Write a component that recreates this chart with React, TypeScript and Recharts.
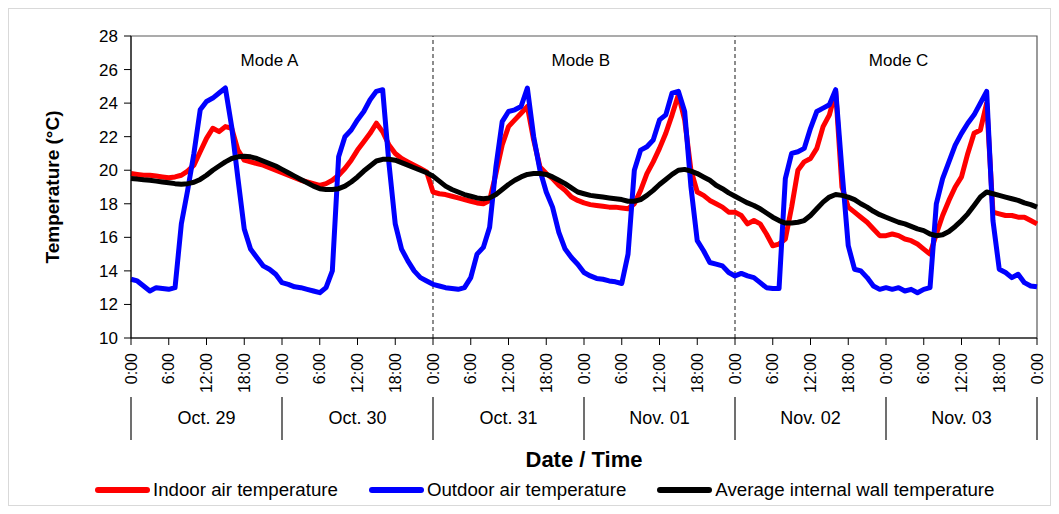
import { LineChart, Line, XAxis, YAxis, ReferenceLine, ReferenceArea, ReferenceDot } from 'recharts';

const dayLabels = ['Oct. 29', 'Oct. 30', 'Oct. 31', 'Nov. 01', 'Nov. 02', 'Nov. 03'];
const timeLabels = ['0:00', '6:00', '12:00', '18:00'];
const timeTicks = [0, 6, 12, 18, 24, 30, 36, 42, 48, 54, 60, 66, 72, 78, 84, 90, 96, 102, 108, 114, 120, 126, 132, 138, 144];
const dayTicks = [0, 12, 24, 36, 48, 60, 72, 84, 96, 108, 120, 132, 144];
const tempTicks = [10, 12, 14, 16, 18, 20, 22, 24, 26, 28];

const modeLabels = ['Mode A', 'Mode B', 'Mode C'];
const modeLabelHours = [22, 71.5, 122];
const modeBoundaries = [48, 96];

// hourly readings, 0:00 Oct. 29 -> 0:00 Nov. 04
const indoorTemp = [
  19.8, 19.75, 19.7, 19.7, 19.65, 19.6, 19.55, 19.6, 19.7, 19.95, 20.3, 21.1,
  21.9, 22.5, 22.3, 22.6, 22.5, 21.2, 20.6, 20.5, 20.4, 20.3, 20.15, 20.0,
  19.85, 19.7, 19.55, 19.4, 19.3, 19.2, 19.1, 19.2, 19.4, 19.7, 20.1, 20.6,
  21.2, 21.7, 22.2, 22.8, 22.3, 21.5, 21.0, 20.7, 20.5, 20.3, 20.1, 19.9,
  18.7, 18.6, 18.55, 18.45, 18.35, 18.25, 18.15, 18.05, 18.0, 18.2, 19.8, 21.5,
  22.6, 23.0, 23.4, 23.8, 21.8, 20.2, 19.8, 19.5, 19.1, 18.8, 18.4, 18.2,
  18.05, 17.95, 17.9, 17.85, 17.8, 17.8, 17.75, 17.7, 18.0, 18.8, 19.8, 20.5,
  21.3, 22.2, 23.3, 24.5, 23.0, 20.0, 18.7, 18.5, 18.2, 18.0, 17.8, 17.5,
  17.5, 17.3, 16.8, 17.0, 16.8, 16.2, 15.5, 15.6, 15.9, 17.8, 20.0, 20.5,
  20.7, 21.3, 22.6, 23.3, 24.7, 19.0, 17.8, 17.5, 17.2, 16.9, 16.5, 16.1,
  16.1, 16.2, 16.1, 15.9, 15.8, 15.6, 15.3, 15.0, 16.2, 17.3, 18.2, 19.0,
  19.6, 21.0, 22.2, 22.4, 24.0, 17.5, 17.4, 17.3, 17.3, 17.2, 17.2, 17.0,
  16.8,
];

const outdoorTemp = [
  13.5, 13.4, 13.1, 12.8, 13.0, 12.95, 12.9, 13.0, 16.8, 18.8, 21.0, 23.6,
  24.1, 24.3, 24.6, 24.9, 22.6, 19.5, 16.5, 15.3, 14.8, 14.3, 14.1, 13.8,
  13.3, 13.2, 13.05, 13.0, 12.9, 12.8, 12.7, 13.0, 14.0, 20.8, 22.0, 22.4,
  23.0, 23.5, 24.2, 24.7, 24.8, 20.4, 16.8, 15.3, 14.6, 14.0, 13.6, 13.4,
  13.2, 13.1, 13.0, 12.95, 12.9, 13.0, 13.6, 15.0, 15.4, 16.6, 20.2, 22.9,
  23.5, 23.6, 23.8, 24.9, 22.0, 20.0, 18.7, 17.8, 16.3, 15.3, 14.8, 14.4,
  13.9, 13.7, 13.55, 13.5, 13.4, 13.35, 13.25, 15.0, 20.0, 21.2, 21.4, 21.8,
  23.0, 23.3, 24.6, 24.7, 23.5, 19.0, 15.8, 15.2, 14.5, 14.4, 14.3, 13.9,
  13.7, 13.85, 13.7, 13.6, 13.3, 13.0, 12.95, 12.95, 19.5, 21.0, 21.1, 21.3,
  22.5, 23.5, 23.7, 23.9, 24.8, 20.0, 15.5, 14.1, 14.0, 13.6, 13.1, 12.9,
  13.0, 12.9, 13.0, 12.8, 12.9, 12.7, 12.9, 13.0, 18.0, 19.5, 20.5, 21.5,
  22.2, 22.8, 23.3, 24.0, 24.7, 17.0, 14.1, 13.9, 13.6, 13.8, 13.3, 13.1,
  13.05,
];

const wallTemp = [
  19.5, 19.47, 19.43, 19.4, 19.35, 19.3, 19.25, 19.2, 19.17, 19.2, 19.28, 19.45,
  19.7, 20.0, 20.25, 20.5, 20.7, 20.8, 20.83, 20.8, 20.7, 20.55, 20.4, 20.25,
  20.05, 19.85, 19.65, 19.45, 19.25, 19.05, 18.9, 18.85, 18.85, 18.9, 19.05, 19.3,
  19.6, 19.95, 20.25, 20.55, 20.65, 20.65, 20.6, 20.45, 20.3, 20.15, 20.0, 19.85,
  19.65, 19.35, 19.05, 18.85, 18.7, 18.55, 18.45, 18.35, 18.3, 18.35, 18.55, 18.85,
  19.15, 19.4, 19.6, 19.75, 19.8, 19.8, 19.75, 19.6, 19.4, 19.2, 18.95, 18.7,
  18.6, 18.5, 18.45, 18.4, 18.35, 18.3, 18.25, 18.15, 18.15, 18.25, 18.5, 18.8,
  19.15, 19.45, 19.75, 20.0, 20.05, 19.95, 19.8, 19.6, 19.4, 19.1, 18.9, 18.65,
  18.45, 18.25, 18.05, 17.9, 17.7, 17.45, 17.2, 17.0, 16.85, 16.85, 16.9, 17.0,
  17.3, 17.7, 18.1, 18.4, 18.55, 18.5, 18.4, 18.25, 18.0, 17.8, 17.55, 17.35,
  17.2, 17.05, 16.9, 16.8, 16.65, 16.5, 16.4, 16.2, 16.1, 16.15, 16.35, 16.65,
  17.0, 17.4, 17.9, 18.4, 18.7, 18.6, 18.5, 18.4, 18.3, 18.2, 18.05, 17.95,
  17.8,
];

const series = [
  { key: 'indoor', name: 'Indoor air temperature', color: '#ff0000' },
  { key: 'outdoor', name: 'Outdoor air temperature', color: '#0000ff' },
  { key: 'wall', name: 'Average internal wall temperature', color: '#000000' },
];

const data = indoorTemp.map((v, i) => ({
  hour: i,
  indoor: v,
  outdoor: outdoorTemp[i],
  wall: wallTemp[i],
}));

const TimeTick = ({ x, y, payload }: any) => (
  <text
    x={x}
    y={y}
    transform={`rotate(-90, ${x}, ${y})`}
    textAnchor="end"
    dominantBaseline="central"
    fontSize={16}
    fill="#000"
  >
    {timeLabels[(payload.value / 6) % 4]}
  </text>
);

const DayTick = ({ x, y, payload }: any) => {
  const v = payload.value;
  if (v % 24 === 0) {
    return <line x1={x} x2={x} y1={y} y2={y + 43} stroke="#404040" strokeWidth={1.5} />;
  }
  return (
    <text x={x} y={y + 21} textAnchor="middle" dominantBaseline="central" fontSize={18} fill="#000">
      {dayLabels[Math.floor(v / 24)]}
    </text>
  );
};

export default function App() {
  return (
    <div
      style={{
        width: 1041,
        height: 496,
        border: '1px solid #d9d9d9',
        position: 'relative',
        fontFamily: '"Liberation Sans", Arial, sans-serif',
        background: '#fff',
      }}
    >
      <LineChart
        width={1041}
        height={496}
        data={data}
        margin={{ top: 27, right: 13, bottom: 33, left: 10 }}
        style={{ fontFamily: '"Liberation Sans", Arial, sans-serif' }}
      >
        <ReferenceArea
          xAxisId={0}
          x1={0}
          x2={144}
          y1={10}
          y2={28}
          fill="none"
          stroke="#595959"
          strokeWidth={1.2}
        />
        <XAxis
          xAxisId={0}
          dataKey="hour"
          type="number"
          domain={[0, 144]}
          ticks={timeTicks}
          interval={0}
          height={59}
          tickSize={7}
          tickMargin={8}
          tick={<TimeTick />}
          axisLine={{ stroke: '#000' }}
          tickLine={{ stroke: '#000' }}
        />
        <XAxis
          xAxisId={1}
          type="number"
          domain={[0, 144]}
          ticks={dayTicks}
          interval={0}
          height={75}
          tickSize={0}
          tickMargin={0}
          tick={<DayTick />}
          axisLine={false}
          tickLine={false}
          label={{ value: 'Date / Time', position: 'insideBottom', offset: 5, fontSize: 22, fontWeight: 'bold', fill: '#000' }}
        />
        <YAxis
          type="number"
          domain={[10, 28]}
          ticks={tempTicks}
          interval={0}
          width={112}
          tickSize={7}
          tickMargin={6}
          tick={{ fontSize: 17, fill: '#000' }}
          axisLine={{ stroke: '#000' }}
          tickLine={{ stroke: '#000' }}
          label={{
            value: 'Temperature (°C)',
            angle: -90,
            position: 'insideLeft',
            offset: 33,
            fontSize: 19,
            fontWeight: 'bold',
            fill: '#000',
            style: { textAnchor: 'middle' },
          }}
        />
        {modeBoundaries.map((h) => (
          <ReferenceLine key={h} xAxisId={0} x={h} stroke="#404040" strokeDasharray="4 3" strokeWidth={1.2} />
        ))}
        {modeLabels.map((m, i) => (
          <ReferenceDot
            key={m}
            xAxisId={0}
            x={modeLabelHours[i]}
            y={26.6}
            r={0}
            fill="none"
            stroke="none"
            label={{ value: m, position: 'center', fontSize: 17, fill: '#000' }}
          />
        ))}
        {series.map((s) => (
          <Line
            key={s.key}
            xAxisId={0}
            dataKey={s.key}
            name={s.name}
            type="linear"
            stroke={s.color}
            strokeWidth={5}
            dot={false}
            strokeLinejoin="round"
            isAnimationActive={false}
          />
        ))}
      </LineChart>
      <div
        style={{
          position: 'absolute',
          left: 86,
          top: 471,
          height: 20,
          display: 'flex',
          alignItems: 'center',
          gap: 31,
          fontSize: 18.7,
          color: '#000',
        }}
      >
        {series.map((s) => (
          <div key={s.key} style={{ display: 'flex', alignItems: 'center' }}>
            <span
              style={{
                display: 'inline-block',
                width: 55,
                height: 6,
                borderRadius: 3,
                background: s.color,
                marginRight: 3,
              }}
            />
            <span>{s.name}</span>
          </div>
        ))}
      </div>
    </div>
  );
}
